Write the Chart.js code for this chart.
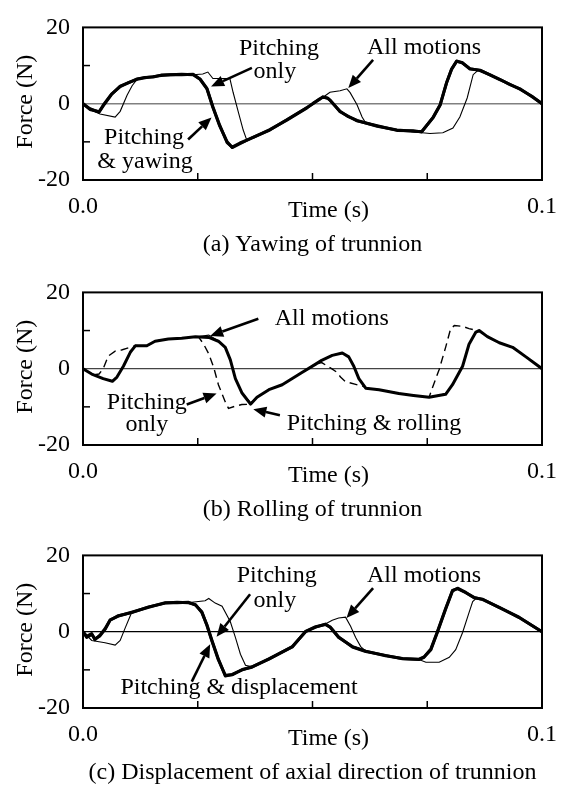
<!DOCTYPE html>
<html><head><meta charset="utf-8">
<script src="https://cdn.jsdelivr.net/npm/chart.js@4.4.1/dist/chart.umd.min.js"></script>
<style>
html,body{margin:0;padding:0;background:#fff;}
.panel{position:absolute;left:0;width:561px;height:264px;}
</style></head><body>
<div class="panel" style="top:0px"><canvas id="ca" width="561" height="264"></canvas></div>
<div class="panel" style="top:265px"><canvas id="cb" width="561" height="264"></canvas></div>
<div class="panel" style="top:528px"><canvas id="cc" width="561" height="264"></canvas></div>
<script>
// ---------- tick labels ----------
const xTickValues = [0, 0.025, 0.05, 0.075, 0.1];
const xTickLabels = ['0.0', '', '', '', '0.1'];
const yTickValues = [-20, -10, 0, 10, 20];
const yTickLabels = ['-20', '', '0', '', '20'];

// ---------- panel (a) Yawing of trunnion ----------
const aThickTimeMs = [0,1.5,3.5,4.4,6.2,8.1,10,11.8,13.5,15.3,17,19,21.5,24,25.5,27,28.3,29.8,31.4,32.5,34.2,37,40.7,44.4,48.8,50.1,51.6,52.3,53.3,53.8,56,57.8,59.7,64.1,68.4,72,73.8,76.3,77.8,79.2,80.3,81.4,82.6,84.3,86.5,88.5,90.8,93,95.2,98,100];
const aPitchOnly   = [0,-1.5,-2.1,-0.4,2.5,4.5,5.6,6.4,6.8,7.1,7.4,7.6,7.7,7.6,6.4,3.9,-1,-5.9,-10,-11.5,-10.5,-8.8,-6.9,-4.2,-1,0,1.3,1.7,1.5,0.9,-2,-3.4,-4.4,-5.9,-6.9,-7.2,-7.3,-3.6,-0.4,5.4,9,11.1,10.8,9.1,8.8,7.6,6.4,5,3.9,1.7,0];
const aPitchYaw    = [0,-1.3,-2.2,-0.6,2.4,4.6,5.5,6.5,6.9,7.0,7.5,7.6,7.6,7.7,6.5,4.0,-0.8,-5.7,-10.2,-11.4,-10.3,-8.9,-6.8,-4.3,-1.1,0.1,1.2,1.8,1.4,1.0,-2.1,-3.3,-4.5,-5.8,-7.0,-7.1,-7.4,-3.5,-0.3,5.5,9.1,11.2,10.7,9.2,8.7,7.7,6.3,5.1,3.8,1.8,0];
const aAllTimeMs   = [0,1.5,3.7,7.0,8.1,9.6,10.7,11.8,13.5,15.3,17,19,21.5,24,26.1,27.2,28.3,32.0,32.7,33.8,34.9,35.7,37,38.6,40.7,44.4,48.8,50.1,51.6,52.3,53.8,56,57.5,58.2,59.7,60.8,61.5,64.1,68.4,72.8,75.6,78.4,80.6,82.1,83.7,85.0,86.1,88.5,90.8,93,95.2,98,100];
const aAllMotions  = [0,-1.5,-2.7,-3.5,-2,2.2,4.7,6.4,6.8,7.1,7.4,7.6,7.7,7.6,7.8,8.3,6.6,6.6,3,-2,-6.9,-9.6,-9,-8,-6.9,-4.2,-1,0,1.3,1.7,3,3.4,3.9,2.9,-0.3,-3.5,-4.9,-5.9,-6.9,-7.5,-7.8,-7.6,-6.4,-3.5,1.5,7.6,8.8,7.6,6.4,5,3.9,1.7,0];

// ---------- panel (b) Rolling of trunnion ----------
const bThickTimeMs = [0,1.9,4.4,6.4,7.4,8.8,10.3,11.4,13.9,15.7,18.6,21.5,24.5,27.4,29.5,31.0,32.1,33.2,34.6,36.5,37.9,40.5,43.4,47.7,50.7,52.0,54.3,56.5,57.9,59.0,60.1,61.6,64.5,68.8,72,75.4,79.0,80.5,82.7,84.1,85.6,86.3,88.1,90.7,93.6,96.5,100];
const bPitchRoll   = [0,-1.4,-2.6,-3.3,-2.2,0.65,4.3,6.0,6.0,7.2,7.8,8.0,8.4,8.2,7.2,5.6,2.3,-2.6,-6.3,-9.3,-7.5,-5.5,-4.2,-1.0,1.2,2.2,3.5,4.1,3.1,0.65,-2.6,-5.1,-5.5,-6.5,-7.0,-7.5,-6.7,-4.2,0.65,6.4,9.6,10.0,8.4,6.8,5.6,3.1,0];
const bAllMotions  = [0,-1.3,-2.7,-3.2,-2.1,0.7,4.4,6.1,5.9,7.3,7.7,8.1,8.3,8.8,7.3,5.5,2.4,-2.5,-6.2,-8.9,-7.6,-5.4,-4.3,-0.9,1.3,2.1,3.6,4.0,3.2,0.7,-2.5,-5.0,-5.6,-6.4,-7.1,-7.4,-6.6,-4.1,0.7,6.5,9.5,10.1,8.3,6.9,5.5,3.2,0];
const bPitchTimeMs = [0,1.2,2.5,3.5,4.4,5.5,7.0,8.4,10.0,11.4,13.9,15.7,18.6,21.5,24.5,25.2,26.3,27.4,28.5,29.5,31.0,31.7,33.2,34.6,36.5,37.9,40.5,43.4,47.7,50.7,52.0,53.9,55.4,56.1,57.2,59.4,61.2,61.6,64.5,68.8,72,75.4,76.1,77.6,79.0,80.1,80.9,82.7,84.1,85.2,86.3,88.1,90.7,93.6,96.5,100];
const bPitchOnly   = [0,-0.8,-1.6,-1.4,0,3.3,4.6,4.9,5.5,6.0,6.0,7.2,7.8,8.0,8.4,8.3,6.4,3.9,0.25,-4.2,-8.7,-10.4,-9.8,-9.4,-9.3,-7.5,-5.5,-4.2,-1.0,1.2,1.6,0.2,-1.0,-2.2,-3.4,-4.1,-4.7,-5.1,-5.5,-6.5,-7.0,-7.5,-5.1,-0.2,5.6,10.5,11.3,11.1,10.5,10.2,10.0,8.4,6.8,5.6,3.1,0];

// ---------- panel (c) Displacement of axial direction ----------
const cThickTimeMs = [0,0.8,1.9,2.6,3.7,4.8,5.9,7.7,10.6,14.3,17.9,20.5,23.0,24.5,25.9,27.0,28.1,29.5,31.0,32.5,34.7,36.8,40.5,45.6,48.5,50.7,52.8,53.9,55.7,58.7,61.6,65.9,69.6,73.2,74.3,75.8,77.2,79.0,80.5,81.6,83.4,85.2,87.1,90.7,95.0,100];
const cPitchOnly   = [0,-1.5,-0.7,-1.9,-1.1,0.6,3.0,4.2,5.0,6.5,7.5,7.7,7.6,7.1,5.0,1.8,-2.3,-7.2,-11.6,-11.2,-10,-9.2,-7.2,-3.9,0,1.2,2.0,1.1,-1.5,-3.9,-5.1,-6.3,-7.0,-7.3,-6.7,-4.7,-0.2,5.9,10.7,11.4,10.3,8.9,8.5,6.3,3.8,0];
const cPitchDisp   = [0,-1.2,-0.5,-2.1,-0.9,0.8,3.1,4.1,5.1,6.4,7.6,7.6,7.7,7.0,5.2,1.6,-2.5,-7.4,-11.4,-11.3,-9.9,-9.3,-7.1,-4.0,0.1,1.3,1.9,1.2,-1.4,-4.0,-5.2,-6.2,-7.1,-7.2,-6.6,-4.5,0,6.1,10.8,11.3,10.2,9.0,8.4,6.4,3.7,0];
const cAllTimeMs   = [0,1.9,4.8,7.0,8.1,9.2,10.3,10.6,14.3,17.9,20.5,23.0,23.7,26.6,27.4,28.8,30.3,32.1,33.2,34.3,35.4,36.8,40.5,45.6,48.5,50.7,52.8,54.3,55.7,57.2,58.3,59.4,60.5,61.6,65.9,69.6,73.2,74.7,77.6,79.8,81.2,82.7,84.1,84.9,85.6,87.1,90.7,95.0,100];
const cAllMotions  = [0,-2.3,-2.9,-3.5,-2.3,1.0,4.2,5.0,6.5,7.5,7.7,7.6,7.7,8.1,8.7,7.5,6.7,2.6,-1.5,-5.9,-8.8,-9.2,-7.2,-3.9,0,1.2,2.0,3.0,3.6,3.8,1.4,-1.5,-3.9,-5.1,-6.3,-7.0,-7.3,-8.0,-8.0,-6.7,-4.7,-0.2,5.0,7.9,8.7,8.5,6.3,3.8,0];

// ---------- helpers ----------
const FONT = '"Liberation Serif", "Times New Roman", serif';
function pts(tMs, f){ return tMs.map((t,i)=>({x:t/1000, y:f[i]})); }
function thick(label, data){ return {label, data, borderColor:'#000', borderWidth:3, pointRadius:0, tension:0, borderJoinStyle:'round', borderCapStyle:'round', fill:false}; }
function thin(label, data){ return {label, data, borderColor:'#000', borderWidth:1.1, pointRadius:0, tension:0, fill:false}; }
function dashed(label, data){ return {label, data, borderColor:'#000', borderWidth:1.4, borderDash:[8,5], pointRadius:0, tension:0, fill:false}; }

function drawArrow(ctx, x1, y1, x2, y2){
  const ang = Math.atan2(y2-y1, x2-x1), L = 13, W = 5.5;
  const bx = x2 - L*Math.cos(ang), by = y2 - L*Math.sin(ang);
  ctx.lineWidth = 2.6; ctx.strokeStyle = '#000'; ctx.fillStyle = '#000';
  ctx.beginPath(); ctx.moveTo(x1,y1); ctx.lineTo(bx,by); ctx.stroke();
  ctx.beginPath(); ctx.moveTo(x2,y2);
  ctx.lineTo(bx + W*Math.sin(ang), by - W*Math.cos(ang));
  ctx.lineTo(bx - W*Math.sin(ang), by + W*Math.cos(ang));
  ctx.closePath(); ctx.fill();
}

function decoPlugin(cfg){
  return {
    id: 'deco',
    afterDraw(chart){
      const {ctx, chartArea:a} = chart;
      const x = chart.scales.x, y = chart.scales.y;
      ctx.save();
      // frame
      ctx.strokeStyle = '#000'; ctx.lineWidth = 2;
      ctx.strokeRect(a.left, a.top, a.right-a.left, a.bottom-a.top);
      // inner tick marks
      ctx.lineWidth = 1.5;
      xTickValues.forEach(v=>{ if (v<=0 || v>=0.1) return; const px = x.getPixelForValue(v);
        ctx.beginPath(); ctx.moveTo(px, a.bottom); ctx.lineTo(px, a.bottom-7); ctx.stroke(); });
      yTickValues.forEach(v=>{ if (Math.abs(v)!==10) return; const py = y.getPixelForValue(v);
        ctx.beginPath(); ctx.moveTo(a.left, py); ctx.lineTo(a.left+7, py); ctx.stroke(); });
      // annotations
      ctx.fillStyle = '#000';
      ctx.font = '24px ' + FONT; ctx.textAlign = 'center'; ctx.textBaseline = 'middle';
      cfg.notes.forEach(n=>ctx.fillText(n.text, x.getPixelForValue(n.t), y.getPixelForValue(n.f)));
      cfg.arrows.forEach(r=>drawArrow(ctx, x.getPixelForValue(r[0]), y.getPixelForValue(r[1]), x.getPixelForValue(r[2]), y.getPixelForValue(r[3])));
      // axis titles and caption
      ctx.fillStyle = '#000';
      ctx.fillText('Time (s)', (a.left+a.right)/2 + 16, a.bottom + 31);
      ctx.fillText(cfg.caption, (a.left+a.right)/2, a.bottom + 65);
      ctx.save(); ctx.translate(26, (a.top+a.bottom)/2 - 2); ctx.rotate(-Math.PI/2);
      ctx.fillText('Force (N)', 0, 0); ctx.restore();
      ctx.restore();
    }
  };
}

function makeChart(id, datasets, zeroColor, zeroWidth, cfg){
  new Chart(document.getElementById(id), {
    type: 'line',
    data: { datasets },
    options: {
      responsive: false, animation: false, devicePixelRatio: 1,
      layout: { padding: { top: 17, right: 19, left: 0, bottom: 0 } },
      plugins: { legend: { display: false }, tooltip: { enabled: false } },
      scales: {
        x: {
          type: 'linear', min: 0, max: 0.1,
          afterBuildTicks: s => { s.ticks = xTickValues.map(v=>({value:v})); },
          afterFit: s => { s.height = 84; },
          grid: { display: false },
          border: { display: false },
          ticks: { autoSkip: false, maxRotation: 0, padding: 4, color: '#000', font: { family: FONT, size: 24 },
            callback: (v) => { const i = xTickValues.findIndex(t=>Math.abs(t-v)<1e-9); return i>=0 ? xTickLabels[i] : ''; } }
        },
        y: {
          min: -20, max: 20,
          afterBuildTicks: s => { s.ticks = yTickValues.map(v=>({value:v})); },
          afterFit: s => { s.width = 83; },
          border: { display: false },
          grid: { drawTicks: false, lineWidth: zeroWidth,
            color: c => (c.tick && c.tick.value === 0) ? zeroColor : 'rgba(0,0,0,0)' },
          ticks: { padding: 13, color: '#000', font: { family: FONT, size: 24 },
            callback: (v) => { const i = yTickValues.indexOf(v); return i>=0 ? yTickLabels[i] : ''; } }
        }
      }
    },
    plugins: [decoPlugin(cfg)]
  });
}

makeChart('ca', [
  thick('Pitching only', pts(aThickTimeMs, aPitchOnly)),
  thick('Pitching & yawing', pts(aThickTimeMs, aPitchYaw)),
  thin('All motions', pts(aAllTimeMs, aAllMotions))
], '#808080', 1.6, {
  caption: '(a) Yawing of trunnion',
  notes: [
    {text:'Pitching', t:0.0427, f:14.5}, {text:'only', t:0.0418, f:8.5},
    {text:'Pitching', t:0.0133, f:-8.9}, {text:'& yawing', t:0.0135, f:-15.2},
    {text:'All motions', t:0.0743, f:14.8}
  ],
  arrows: [[0.0368, 9.4, 0.0279, 4.5], [0.0229, -9.4, 0.0280, -3.6], [0.0632, 11.5, 0.0578, 4.1]]
});

makeChart('cb', [
  dashed('Pitching only', pts(bPitchTimeMs, bPitchOnly)),
  thick('Pitching & rolling', pts(bThickTimeMs, bPitchRoll)),
  thin('All motions', pts(bThickTimeMs, bAllMotions))
], '#444', 1.2, {
  caption: '(b) Rolling of trunnion',
  notes: [
    {text:'All motions', t:0.0542, f:13.1},
    {text:'Pitching', t:0.0139, f:-9.0}, {text:'only', t:0.0139, f:-14.8},
    {text:'Pitching & rolling', t:0.0634, f:-14.4}
  ],
  arrows: [[0.0382, 13.1, 0.0277, 8.6], [0.0226, -9.4, 0.0291, -6.5], [0.0429, -12.2, 0.0371, -10.6]]
});

makeChart('cc', [
  thick('Pitching only', pts(cThickTimeMs, cPitchOnly)),
  thick('Pitching & displacement', pts(cThickTimeMs, cPitchDisp)),
  thin('All motions', pts(cAllTimeMs, cAllMotions))
], '#000', 1.2, {
  caption: '(c) Displacement of axial direction of trunnion',
  notes: [
    {text:'Pitching', t:0.0422, f:14.6}, {text:'only', t:0.0418, f:8.0},
    {text:'Pitching & displacement', t:0.0340, f:-14.8},
    {text:'All motions', t:0.0743, f:14.6}
  ],
  arrows: [[0.0364, 9.8, 0.0291, -1.3], [0.0237, -13.1, 0.0277, -3.3], [0.0632, 11.4, 0.0574, 3.6]]
});
</script>
</body></html>
